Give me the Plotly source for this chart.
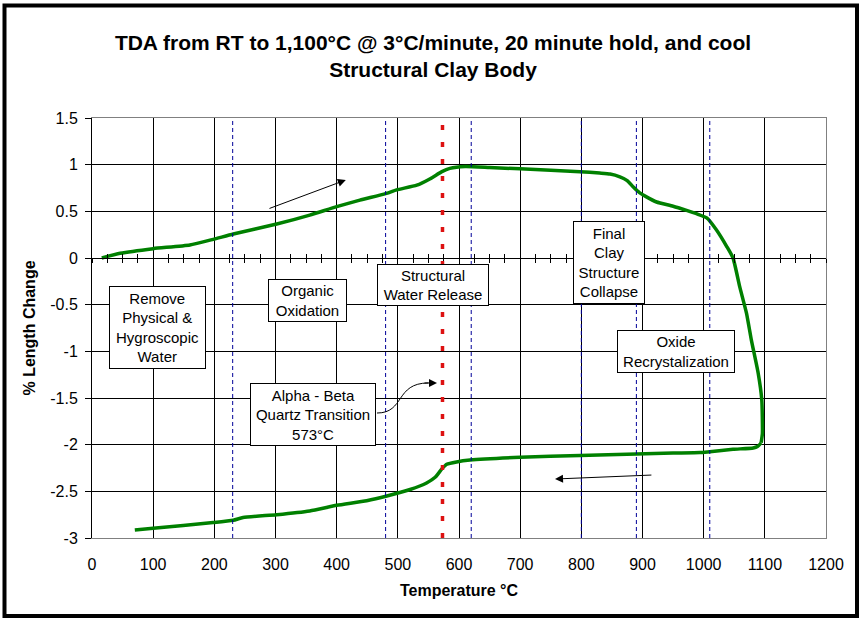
import plotly.graph_objects as go

# ---------------- data ----------------
heating_temp = [16, 46, 100, 160, 198, 231, 302, 356, 400, 438, 480, 498, 531, 553, 572, 585, 610, 650,
                700, 750, 798, 830, 847, 863, 875, 885, 895, 905, 923, 950, 972, 990, 1005, 1021, 1038,
                1048, 1059, 1070, 1078, 1089, 1095, 1096, 1094]
heating_change = [0.0, 0.05, 0.10, 0.14, 0.20, 0.257, 0.364, 0.46, 0.55, 0.62, 0.69, 0.73, 0.78, 0.85, 0.925,
                  0.96, 0.98, 0.97, 0.955, 0.94, 0.925, 0.91, 0.90, 0.87, 0.83, 0.76, 0.70, 0.66, 0.60, 0.555,
                  0.51, 0.47, 0.43, 0.30, 0.12, 0.0, -0.31, -0.59, -0.88, -1.23, -1.52, -1.88, -1.98]
cooling_temp = [1094, 1088, 1081, 1048, 1010, 994, 950, 890, 798, 700, 618, 596, 580, 572, 561, 547, 520, 482,
                449, 400, 356, 302, 247, 231, 198, 100, 70]
cooling_change = [-1.98, -2.02, -2.035, -2.05, -2.075, -2.085, -2.09, -2.10, -2.115, -2.135, -2.165, -2.185,
                  -2.21, -2.26, -2.35, -2.41, -2.48, -2.55, -2.60, -2.65, -2.71, -2.75, -2.78, -2.81, -2.835,
                  -2.895, -2.915]

transition_temps = [230, 480, 620, 800, 890, 1010]
quartz_temp = 573

y_tick_vals = [1.5, 1, 0.5, 0, -0.5, -1, -1.5, -2, -2.5, -3]
y_tick_labels = ["1.5", "1", "0.5", "0", "-0.5", "-1", "-1.5", "-2", "-2.5", "-3"]

box_labels = ["Remove<br>Physical &<br>Hygroscopic<br>Water",
              "Organic<br>Oxidation",
              "Structural<br>Water Release",
              "Final<br>Clay<br>Structure<br>Collapse",
              "Oxide<br>Recrystalization",
              "Alpha - Beta<br>Quartz Transition<br>573°C"]
box_x = [107, 352, 557.5, 845, 955, 361]
box_y = [-0.745, -0.455, -0.289, -0.048, -1.002, -1.677]
box_w = [95, 77, 110, 70, 116, 124]
box_h = [81, 41, 40, 81, 41, 61]

FONT = "Liberation Sans, Arial, sans-serif"
GREEN = "#008000"

fig = go.Figure()
fig.add_trace(go.Scatter(x=heating_temp, y=heating_change, mode="lines",
                         line=dict(color=GREEN, width=3.5, shape="spline", smoothing=0.5),
                         showlegend=False, hoverinfo="skip"))
fig.add_trace(go.Scatter(x=cooling_temp, y=cooling_change, mode="lines",
                         line=dict(color=GREEN, width=3.5, shape="spline", smoothing=0.5),
                         showlegend=False, hoverinfo="skip"))
# invisible traces so the overlay axes (crossing ticks at y=0, right frame edge) are drawn
for xa, ya in [("x2", "y"), ("x3", "y"), ("x", "y2")]:
    fig.add_trace(go.Scatter(x=heating_temp, y=heating_change, mode="none", xaxis=xa, yaxis=ya,
                             showlegend=False, hoverinfo="skip"))

shapes = []
for t in transition_temps:
    shapes.append(dict(type="line", xref="x", yref="y", x0=t, x1=t, y0=-3, y1=1.5,
                       line=dict(color="#000099", width=1, dash="4px,3px"), layer="above"))
shapes.append(dict(type="line", xref="x", yref="y", x0=quartz_temp, x1=quartz_temp, y0=-3, y1=1.5,
                   line=dict(color="#dd1111", width=3.5, dash="5px,12px"), layer="above"))
# curved connector from Alpha-Beta box to red line
shapes.append(dict(type="path", xref="x", yref="y",
                   path="M 465.9,-1.661 C 511.7,-1.661 495.3,-1.339 550,-1.339",
                   line=dict(color="black", width=1), layer="above"))
# outer frame
shapes.append(dict(type="rect", xref="paper", yref="paper",
                   x0=(4.5 - 92) / 734, x1=(857 - 92) / 734,
                   y0=(538 - 616) / 420, y1=(538 - 5.5) / 420,
                   line=dict(color="black", width=4), layer="above"))

annotations = []
for txt, x, y, w, h in zip(box_labels, box_x, box_y, box_w, box_h):
    annotations.append(dict(text=txt, x=x, y=y, xref="x", yref="y", showarrow=False,
                            xanchor="center", yanchor="middle", width=w, height=h,
                            bgcolor="white", bordercolor="black", borderwidth=1, borderpad=0,
                            font=dict(family=FONT, size=15, color="black")))
# straight arrows
annotations.append(dict(text="", x=415, y=0.836, ax=287.7, ay=0.525, xref="x", yref="y",
                        axref="x", ayref="y", showarrow=True, arrowhead=2, arrowsize=1.6,
                        arrowwidth=1, arrowcolor="black"))
annotations.append(dict(text="", x=757, y=-2.368, ax=917, ay=-2.325, xref="x", yref="y",
                        axref="x", ayref="y", showarrow=True, arrowhead=2, arrowsize=1.6,
                        arrowwidth=1, arrowcolor="black"))
annotations.append(dict(text="", x=564, y=-1.339, ax=-14, ay=0, xref="x", yref="y",
                        showarrow=True, arrowhead=2, arrowsize=1.6, arrowwidth=1, arrowcolor="black"))

fig.update_layout(
    width=866, height=626, autosize=False,
    margin=dict(l=92, r=40, t=118, b=88, autoexpand=False),
    paper_bgcolor="white", plot_bgcolor="white",
    font=dict(family=FONT, size=16, color="black"),
    title=dict(text="<b>TDA from RT to 1,100°C @ 3°C/minute, 20 minute hold, and cool<br>Structural Clay Body</b>",
               x=0.5, xanchor="center", y=1 - 50 / 626, yanchor="middle", automargin=False,
               font=dict(family=FONT, size=21, color="black")),
    xaxis=dict(range=[0, 1200], dtick=100, tick0=0, showgrid=True, gridcolor="black", gridwidth=1,
               zeroline=False, showline=True, linecolor="#808080", linewidth=1, mirror=True,
               ticks="", ticklabelstandoff=12, tickfont=dict(size=16), automargin=False,
               title=dict(text="<b>Temperature °C</b>", font=dict(size=16), standoff=12)),
    xaxis2=dict(range=[0, 1200], dtick=25, tick0=0, overlaying="x", anchor="free", position=2 / 3,
                ticks="outside", ticklen=4, tickcolor="black", showticklabels=False, automargin=False,
                showgrid=False, zeroline=False, showline=True, linecolor="black"),
    xaxis3=dict(range=[0, 1200], dtick=25, tick0=0, overlaying="x", anchor="free", position=2 / 3,
                ticks="inside", ticklen=4, tickcolor="black", showticklabels=False, automargin=False,
                showgrid=False, zeroline=False, showline=False),
    yaxis=dict(range=[-3, 1.5], tickvals=y_tick_vals, ticktext=y_tick_labels, showgrid=True,
               gridcolor="black", gridwidth=1, zeroline=False, showline=True, linecolor="black",
               linewidth=1, ticks="outside", ticklen=6, tickcolor="black", ticklabelstandoff=4,
               tickfont=dict(size=16), automargin=False,
               title=dict(text="<b>% Length Change</b>", font=dict(size=16), standoff=10)),
    yaxis2=dict(range=[-3, 1.5], overlaying="y", side="right", showline=True, linecolor="#808080",
                showgrid=False, zeroline=False, showticklabels=False, ticks="", automargin=False),
    shapes=shapes,
    annotations=annotations,
)

fig.write_html("out.html", config={"displayModeBar": False},
               post_script="document.body.style.margin='0';document.body.style.padding='0';")
